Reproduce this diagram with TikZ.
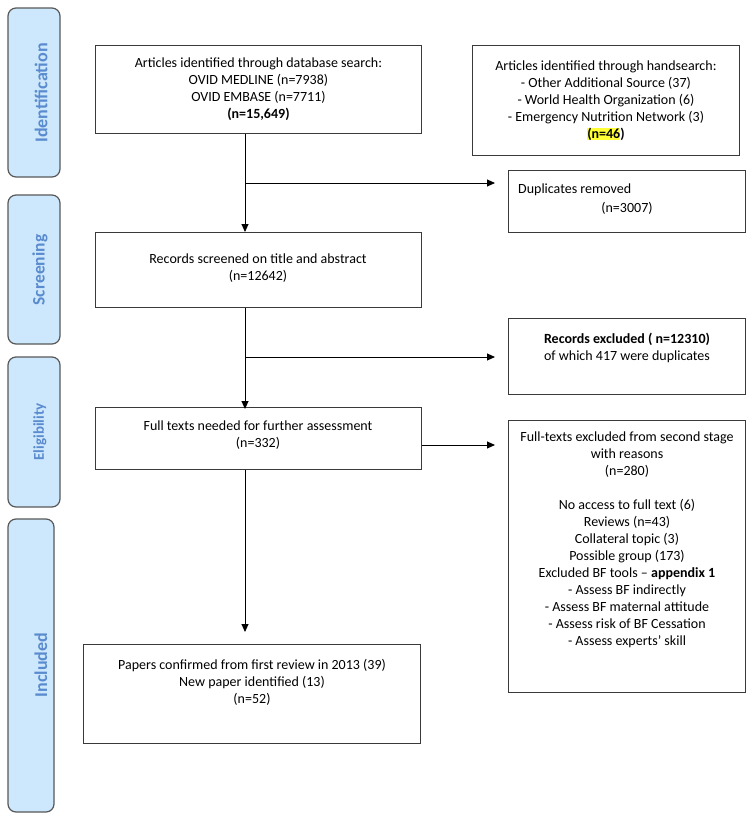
\documentclass[tikz,border=0pt]{standalone}
\usepackage{fontspec}
\setmainfont{Carlito}
\usetikzlibrary{arrows.meta}
\definecolor{sidefill}{HTML}{CDE8FC}
\definecolor{sidetext}{HTML}{5A8BCF}
\definecolor{boxline}{HTML}{3A3A3A}
\definecolor{hl}{HTML}{FFFF33}
\begin{document}
\begin{tikzpicture}[x=1pt,y=-1pt,
  side/.style={draw=boxline!85, line width=1.2pt, fill=sidefill, rounded corners=8pt},
  sidelabel/.style={text=sidetext, font=\fontsize{18}{20}\selectfont\bfseries, rotate=90, inner sep=0pt},
  box/.style={draw=boxline, line width=0.9pt, anchor=north west, inner sep=0pt},
  txt/.style={font=\fontsize{14}{17}\selectfont, align=center, inner sep=0pt},
  arr/.style={line width=0.9pt, -{Triangle[length=8pt,width=7pt]}}]
\useasboundingbox (0,0) rectangle (751,817);
% side bars
\draw[side] (8,8) rectangle (60,177);
\draw[side] (8,195) rectangle (60,344);
\draw[side] (8,357) rectangle (60,507);
\draw[side] (8,519) rectangle (54,812);
\node[sidelabel] (lid) at (41,93) {Identification};
\node[sidelabel, font=\fontsize{17.5}{20}\selectfont\bfseries] (lsc) at (40,270) {Screening};
\node[sidelabel, font=\fontsize{15}{18}\selectfont\bfseries] (lel) at (40,432) {Eligibility};
\node[sidelabel] (lin) at (41,665) {Included};
% boxes
\node[box, minimum width=326pt, minimum height=88pt] (A) at (95,45) {};
\node[txt] (At) at (A.center) {Articles identified through database search:\\OVID MEDLINE (n=7938)\\OVID EMBASE (n=7711)\\\textbf{(n=15,649)}};
\node[box, minimum width=267pt, minimum height=110pt] (B) at (472,45) {};
\node[txt] (Bt) at (B.center) {Articles identified through handsearch:\\- Other Additional Source (37)\\- World Health Organization (6)\\- Emergency Nutrition Network (3)\\\textbf{{\setlength{\fboxsep}{0pt}\colorbox{hl}{(n=46}})}};
\node[box, minimum width=237pt, minimum height=62pt] (D) at (508,170) {};
\node[txt, anchor=west] (Dt1) at (518,190) {Duplicates removed};
\node[txt] (Dt2) at (627,208) {(n=3007)};
\node[box, minimum width=326pt, minimum height=75pt] (S) at (95,232) {};
\node[txt] (St) at (258,268) {Records screened on title and abstract\\(n=12642)};
\node[box, minimum width=237pt, minimum height=76pt] (E) at (508,318) {};
\node[txt] (Et) at (627,348) {\textbf{Records excluded ( n=12310)}\\of which 417 were duplicates};
\node[box, minimum width=326pt, minimum height=62pt] (F) at (95,407) {};
\node[txt] (Ft) at (258,435) {Full texts needed for further assessment\\(n=332)};
\node[box, minimum width=237pt, minimum height=272pt] (G) at (508,420) {};
\node[txt, anchor=north] (Gt) at (627,432) {Full-texts excluded from second stage\\with reasons\\(n=280)\\[17pt]No access to full text (6)\\Reviews (n=43)\\Collateral topic (3)\\Possible group (173)\\Excluded BF tools -- \textbf{appendix 1}\\- Assess BF indirectly\\- Assess BF maternal attitude\\- Assess risk of BF Cessation\\- Assess experts’ skill};
\node[box, minimum width=337pt, minimum height=99pt] (P) at (83,644) {};
\node[txt] (Pt) at (252,682) {Papers confirmed from first review in 2013 (39)\\New paper identified (13)\\(n=52)};
% connectors
\coordinate (vx) at (245,0);
\coordinate (b1) at (245,183);
\coordinate (b2) at (245,357);
\coordinate (b3) at (245,445);
\draw[arr] (A.south -| vx) -- (S.north -| vx);
\draw[arr, shorten >=13pt] (b1) -- (b1 -| D.west);
\draw[arr] (S.south -| vx) -- ([yshift=-2pt]F.north -| vx);
\draw[arr, shorten >=13pt] (b2) -- (b2 -| E.west);
\draw[arr, shorten >=13pt] (b3 -| F.east) -- (b3 -| G.west);
\draw[arr, shorten >=12pt] (F.south -| vx) -- (P.north -| vx);
\end{tikzpicture}
\end{document}
